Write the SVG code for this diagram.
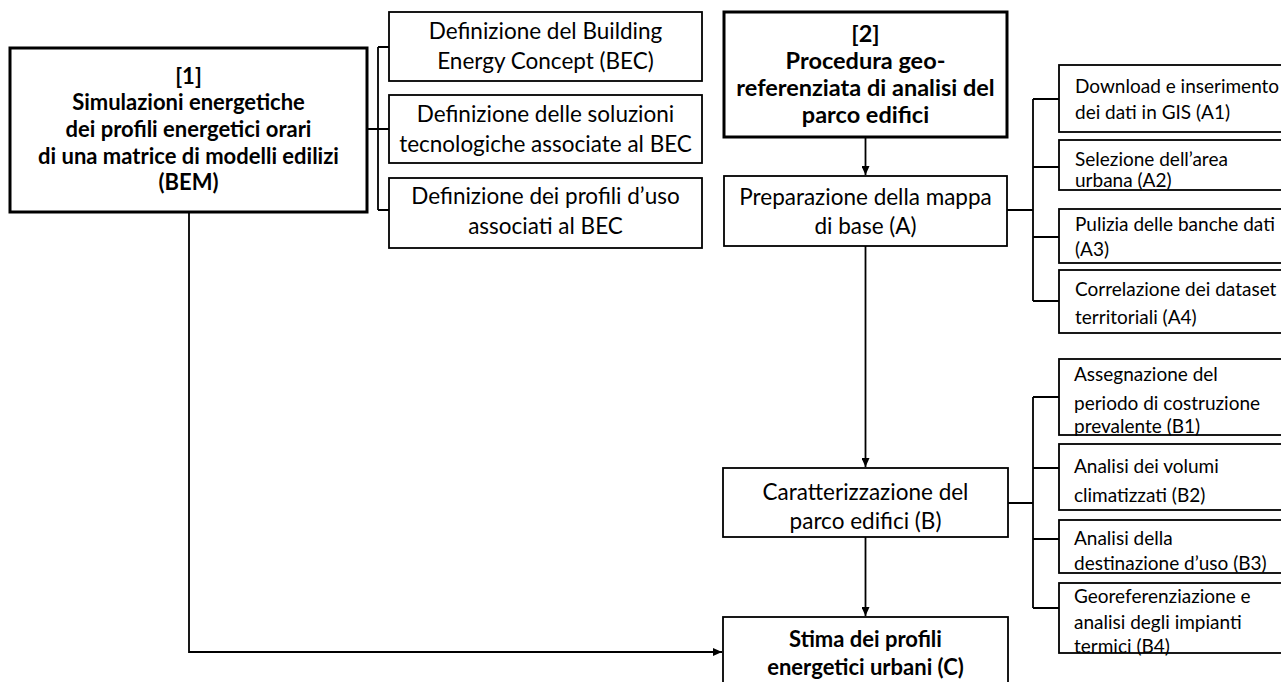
<svg xmlns="http://www.w3.org/2000/svg" width="1281" height="682" viewBox="0 0 1281 682">
<style>
.thick{fill:#fff;stroke:#000;stroke-width:3}
.box{fill:#fff;stroke:#000;stroke-width:1.8}
.c{fill:none;stroke:#000;stroke-width:1.8}
.tb{font-family:Lato,"Liberation Sans",sans-serif;font-weight:bold;font-size:22px;text-anchor:middle;fill:#000}
.tb2{font-size:23.5px}
.tm{font-family:Lato,"Liberation Sans",sans-serif;font-size:22.5px;text-anchor:middle;fill:#000}
.ts{font-family:Lato,"Liberation Sans",sans-serif;font-size:19px;fill:#000}
</style>
<defs>
<marker id="ah" markerWidth="10" markerHeight="8" refX="9" refY="4" orient="auto" markerUnits="userSpaceOnUse">
<path d="M0,0 L9,4 L0,8 Z" fill="#000"/>
</marker>
</defs>
<g id="connectors">
<path class="c" d="M367,129 H378 M378,47 V210 M378,47 H389 M378,129 H389 M378,210 H389"/>
<path class="c" d="M865.5,138 V175" marker-end="url(#ah)"/>
<path class="c" d="M865.5,246 V467" marker-end="url(#ah)"/>
<path class="c" d="M865.5,537 V616" marker-end="url(#ah)"/>
<path class="c" d="M189,212 V652 H722" marker-end="url(#ah)"/>
<path class="c" d="M1007,210 H1033 M1033,99 V301 M1033,99 H1059 M1033,167 H1059 M1033,237 H1059 M1033,301 H1059"/>
<path class="c" d="M1008,503 H1033 M1033,397 V608 M1033,397 H1059 M1033,468 H1059 M1033,539 H1059 M1033,608 H1059"/>
</g>
<g id="n1">
<rect class="thick" x="10" y="48" width="357" height="164"/>
<text class="tb" x="188.5" y="84">[1]</text>
<text class="tb" x="188.5" y="110">Simulazioni energetiche</text>
<text class="tb" x="188.5" y="137">dei profili energetici orari</text>
<text class="tb" x="188.5" y="164">di una matrice di modelli edilizi</text>
<text class="tb" x="188.5" y="190">(BEM)</text>
</g>
<g id="n1a">
<rect class="box" x="389" y="12" width="313" height="69"/>
<text class="tm" x="545.5" y="39">Definizione del Building</text>
<text class="tm" x="545.5" y="69">Energy Concept (BEC)</text>
</g>
<g id="n1b">
<rect class="box" x="389" y="95" width="313" height="68"/>
<text class="tm" x="545.5" y="122">Definizione delle soluzioni</text>
<text class="tm" x="545.5" y="152">tecnologiche associate al BEC</text>
</g>
<g id="n1c">
<rect class="box" x="389" y="178" width="313" height="70"/>
<text class="tm" x="545.5" y="204">Definizione dei profili d’uso</text>
<text class="tm" x="545.5" y="234">associati al BEC</text>
</g>
<g id="n2">
<rect class="thick" x="724" y="12" width="283" height="125"/>
<text class="tb tb2" x="865.5" y="42">[2]</text>
<text class="tb tb2" x="865.5" y="69">Procedura geo-</text>
<text class="tb tb2" x="865.5" y="96">referenziata di analisi del</text>
<text class="tb tb2" x="865.5" y="123">parco edifici</text>
</g>
<g id="nA">
<rect class="box" x="724" y="176" width="283" height="70"/>
<text class="tm" x="865.5" y="205">Preparazione della mappa</text>
<text class="tm" x="865.5" y="234">di base (A)</text>
</g>
<g id="nA1">
<rect class="box" x="1059" y="65" width="240" height="67"/>
<text class="ts" x="1075" y="93">Download e inserimento</text>
<text class="ts" x="1075" y="119">dei dati in GIS (A1)</text>
</g>
<g id="nA2">
<rect class="box" x="1059" y="140" width="240" height="50"/>
<text class="ts" x="1075" y="166">Selezione dell’area</text>
<text class="ts" x="1075" y="187">urbana (A2)</text>
</g>
<g id="nA3">
<rect class="box" x="1059" y="209" width="240" height="54"/>
<text class="ts" x="1075" y="231">Pulizia delle banche dati</text>
<text class="ts" x="1075" y="256">(A3)</text>
</g>
<g id="nA4">
<rect class="box" x="1059" y="270" width="240" height="63"/>
<text class="ts" x="1075" y="296">Correlazione dei dataset</text>
<text class="ts" x="1075" y="324">territoriali (A4)</text>
</g>
<g id="nB">
<rect class="box" x="723" y="468" width="285" height="69"/>
<text class="tm" x="865.5" y="500">Caratterizzazione del</text>
<text class="tm" x="865.5" y="529">parco edifici (B)</text>
</g>
<g id="nB1">
<rect class="box" x="1059" y="359" width="240" height="76"/>
<text class="ts" x="1074" y="381">Assegnazione del</text>
<text class="ts" x="1074" y="410">periodo di costruzione</text>
<text class="ts" x="1074" y="433">prevalente (B1)</text>
</g>
<g id="nB2">
<rect class="box" x="1059" y="444" width="240" height="66"/>
<text class="ts" x="1074" y="473">Analisi dei volumi</text>
<text class="ts" x="1074" y="502">climatizzati (B2)</text>
</g>
<g id="nB3">
<rect class="box" x="1059" y="520" width="240" height="53"/>
<text class="ts" x="1074" y="545">Analisi della</text>
<text class="ts" x="1074" y="570">destinazione d’uso (B3)</text>
</g>
<g id="nB4">
<rect class="box" x="1059" y="583" width="240" height="70"/>
<text class="ts" x="1074" y="603">Georeferenziazione e</text>
<text class="ts" x="1074" y="629">analisi degli impianti</text>
<text class="ts" x="1074" y="653">termici (B4)</text>
</g>
<g id="nC">
<rect class="box" x="723" y="617" width="285" height="80"/>
<text class="tb" x="865.5" y="647">Stima dei profili</text>
<text class="tb" x="865.5" y="675">energetici urbani (C)</text>
</g>
</svg>
